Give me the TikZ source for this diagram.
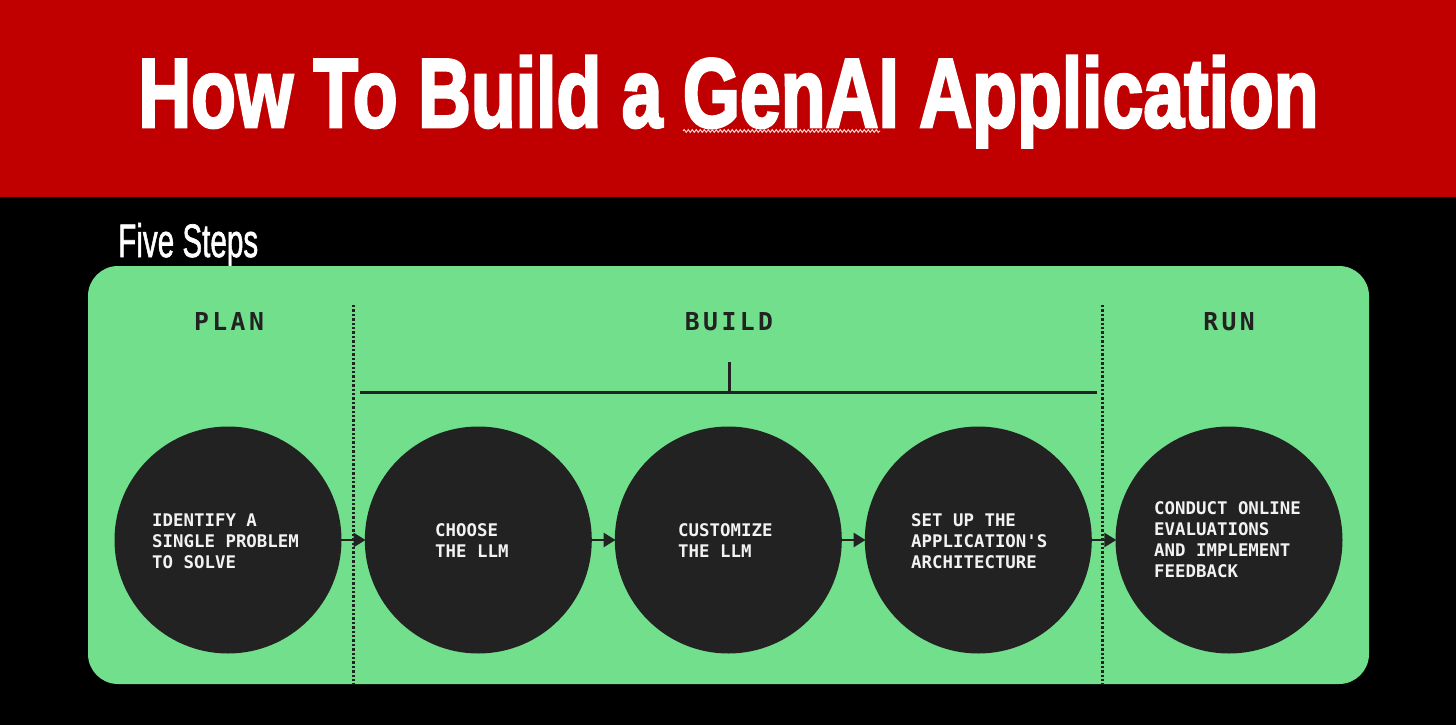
\documentclass[tikz,border=0pt]{standalone}
\usepackage{fontspec}
\usepackage{graphicx}
\setmainfont{Liberation Sans}
\newfontfamily\titlefont{Liberation Sans Bold}[FakeBold=3]
\newfontfamily\subfont{Liberation Sans}[FakeBold=1.5]
\newfontfamily\stepfont{DejaVu Sans Mono}
\newfontfamily\labfont{DejaVu Sans Mono}[LetterSpace=14]
\usetikzlibrary{arrows.meta,decorations.pathmorphing}
\definecolor{bandred}{HTML}{C00000}
\definecolor{greenbg}{HTML}{72DF8C}
\definecolor{dark}{HTML}{222222}
\definecolor{txt}{HTML}{F2F2F2}
\begin{document}
\begin{tikzpicture}[x=1pt,y=-1pt,
  stepcircle/.style={circle,fill=dark,minimum size=227pt,inner sep=0pt},
  steptext/.style={anchor=west,align=left,text=txt,inner sep=0pt,font=\stepfont\bfseries\fontsize{17.4}{21}\selectfont},
  phase/.style={anchor=base,inner sep=0pt,text=dark,font=\labfont\bfseries\fontsize{24.7}{26}\selectfont},
  flow/.style={-{Triangle[length=12pt,width=14pt]},line width=2.5pt,draw=dark,shorten <=-1pt,shorten >=-1pt},
  divider/.style={draw=dark,line width=2.6pt,dash pattern=on 2.4pt off 2pt},
  bracket/.style={draw=dark,line width=2.8pt}]
\fill[black] (0,0) rectangle (1456,725);
\useasboundingbox (0,0) rectangle (1456,725);
\fill[bandred] (0,0) rectangle (1456,197);
\node[anchor=base west,inner sep=0pt,text=white] (title) at (138,127)
  {\resizebox{1180pt}{71pt}{\titlefont How To Build a GenAI Application}};
\coordinate (sq1) at (683,131);
\coordinate (sq2) at (880,131);
\draw[decorate,decoration={snake,amplitude=1.4pt,segment length=4pt},draw=red!20!white,line width=1pt] (sq1) -- (sq2);
\node[anchor=base west,inner sep=0pt,text=white] (five) at (118,257)
  {\resizebox{140pt}{34pt}{\subfont Five Steps}};
\fill[greenbg,rounded corners=30pt] (88,266) rectangle (1369,684);
% dividers
\coordinate (d1t) at (353.3,305);
\coordinate (d1b) at (353.3,684);
\coordinate (d2t) at (1102.5,305);
\coordinate (d2b) at (1102.5,684);
\draw[divider] (d1t) -- (d1b);
\draw[divider] (d2t) -- (d2b);
% bracket
\coordinate (bl) at (360,392.7);
\coordinate (br) at (1097,392.7);
\coordinate (bt) at (729.5,362);
\coordinate (bm) at (729.5,392.7);
\draw[bracket] (bl) -- (br);
\draw[bracket,line width=2.5pt] (bt) -- (bm);
% phase labels
\node[phase] (plan) at (229,330) {PLAN};
\node[phase] (build) at (729,330) {BUILD};
\node[phase] (run) at (1229,330) {RUN};
% circles
\node[stepcircle] (c1) at (228,540) {};
\node[stepcircle] (c2) at (478.3,540) {};
\node[stepcircle] (c3) at (728.3,540) {};
\node[stepcircle] (c4) at (978.3,540) {};
\node[stepcircle] (c5) at (1229,540) {};
\node[steptext] (t1) at (152,541) {IDENTIFY A\\SINGLE PROBLEM\\TO SOLVE};
\node[steptext] (t2) at (435,541) {CHOOSE\\THE LLM};
\node[steptext] (t3) at (678,541) {CUSTOMIZE\\THE LLM};
\node[steptext] (t4) at (911,541) {SET UP THE\\APPLICATION'S\\ARCHITECTURE};
\node[steptext] (t5) at (1154,540) {CONDUCT ONLINE\\EVALUATIONS\\AND IMPLEMENT\\FEEDBACK};
% arrows
\draw[flow] (c1) -- (c2);
\draw[flow] (c2) -- (c3);
\draw[flow] (c3) -- (c4);
\draw[flow] (c4) -- (c5);
\end{tikzpicture}
\end{document}
